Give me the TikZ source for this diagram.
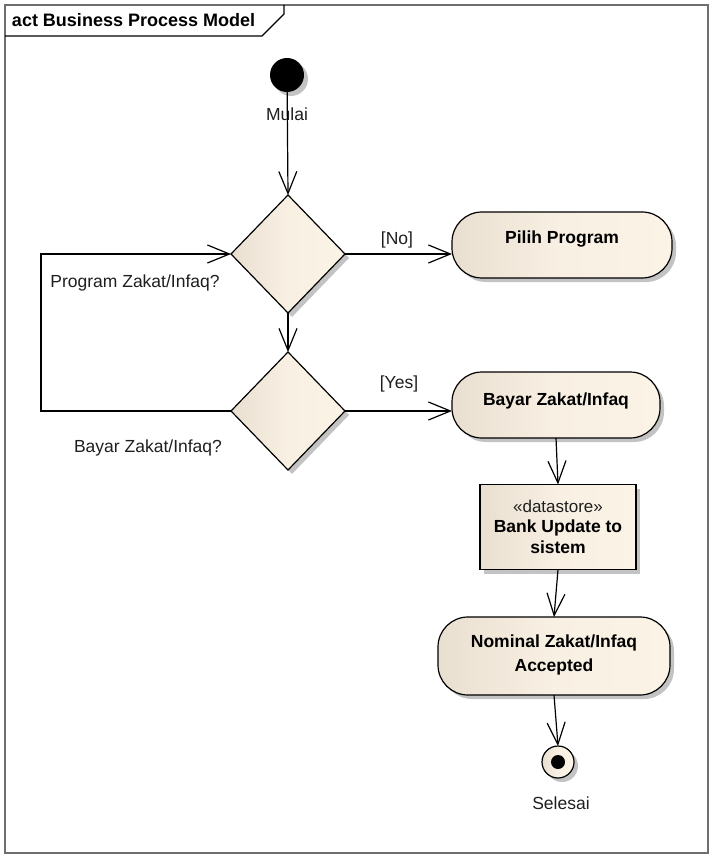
\documentclass[tikz,border=0pt]{standalone}
\usepackage{fontspec}
\setmainfont{Liberation Sans}
\usetikzlibrary{arrows.meta,shapes.geometric,shadows}
\definecolor{fillL}{RGB}{233,223,209}
\definecolor{fillR}{RGB}{251,243,230}
\definecolor{shad}{RGB}{195,195,195}
\definecolor{txt}{RGB}{30,30,30}
\definecolor{framec}{RGB}{110,110,110}
\begin{document}
\begin{tikzpicture}[x=1pt,y=-1pt,
  every node/.style={inner sep=0pt,outer sep=0pt},
  lbl/.style={font=\fontsize{17.5}{20}\selectfont,text=txt},
  btxt/.style={font=\fontsize{17.5}{21}\selectfont\bfseries,text=black,align=center},
  shd/.style={drop shadow={shadow xshift=4pt,shadow yshift=-4pt,fill=shad,opacity=1}},
  grad/.style={left color=fillL,right color=fillR,middle color=fillR!85!fillL},
  actbox/.style={draw,line width=1.2pt,rounded corners=30pt,grad,shd},
  storebox/.style={draw,line width=1.2pt,grad,shd},
  decision/.style={diamond,draw,line width=1.2pt,grad,shd,minimum width=114pt,minimum height=118pt},
  arr/.style={draw,line width=1.2pt,-{Straight Barb[length=22pt,width=18pt,line width=1.2pt]}}
]
\useasboundingbox (0,0) rectangle (713,858);
% frame
\draw[framec,line width=1.5pt] (5,5) rectangle (708,853);
\draw[line width=1.2pt] (5,36) -- (262,36) -- (284,14) -- (284,5);
\node[font=\fontsize{18}{20}\selectfont\bfseries,anchor=west] (title) at (12,20) {act Business Process Model};

% nodes
\node[circle,fill=black,minimum size=34pt,shd] (start) at (287,75) {};
\node[lbl] (mulai) at (287,114) {Mulai};

\node[decision] (d1) at (288,254) {};
\node[decision] (d2) at (288,411) {};

\node[actbox,minimum width=220pt,minimum height=66pt] (pp) at (562,245) {};
\node[btxt] (ppt) at (562,239) {Pilih Program};

\node[actbox,minimum width=208pt,minimum height=66pt] (bz) at (556,405) {};
\node[btxt] (bzt) at (556,401) {Bayar Zakat/Infaq};

\node[storebox,minimum width=156pt,minimum height=85pt] (ds) at (558,527) {};
\node[lbl,font=\fontsize{17}{20}\selectfont] (dst) at (558,506) {«datastore»};
\node[btxt] (dsb) at (558,537) {Bank Update to\\sistem};

\node[actbox,minimum width=232pt,minimum height=78pt] (nom) at (554,656) {};
\node[btxt,font=\fontsize{17.5}{24}\selectfont\bfseries] (nomt) at (554,655) {Nominal Zakat/Infaq\\Accepted};

\node[circle,draw,line width=1.2pt,grad,minimum size=32pt,shd] (fin) at (558,762) {};
\node[circle,fill=black,minimum size=14pt] (fininner) at (fin.center) {};
\node[lbl] (selesai) at (561,803) {Selesai};

% labels
\node[lbl] (no) at (397,240) {[No]};
\node[lbl] (yes) at (399,384) {[Yes]};
\node[lbl] (q1) at (135,283) {Program Zakat/Infaq?};
\node[lbl] (q2) at (148,448) {Bayar Zakat/Infaq?};

% connectors
\draw[arr] (start) -- (d1.north);
\draw[arr] (d1.south) -- (d2.north);
\draw[arr] (d1.east) -- (d1.east -| pp.west);
\draw[arr] (d2.east) -- (d2.east -| bz.west);
\coordinate (loop) at (41,330);
\draw[arr] (d2.west) -| (loop) |- (d1.west);
\draw[arr] (bz.south) -- (ds.north);
\draw[arr] (ds.south) -- (nom.north);
\draw[arr] (nom.south) -- (fin.north);
\end{tikzpicture}
\end{document}
